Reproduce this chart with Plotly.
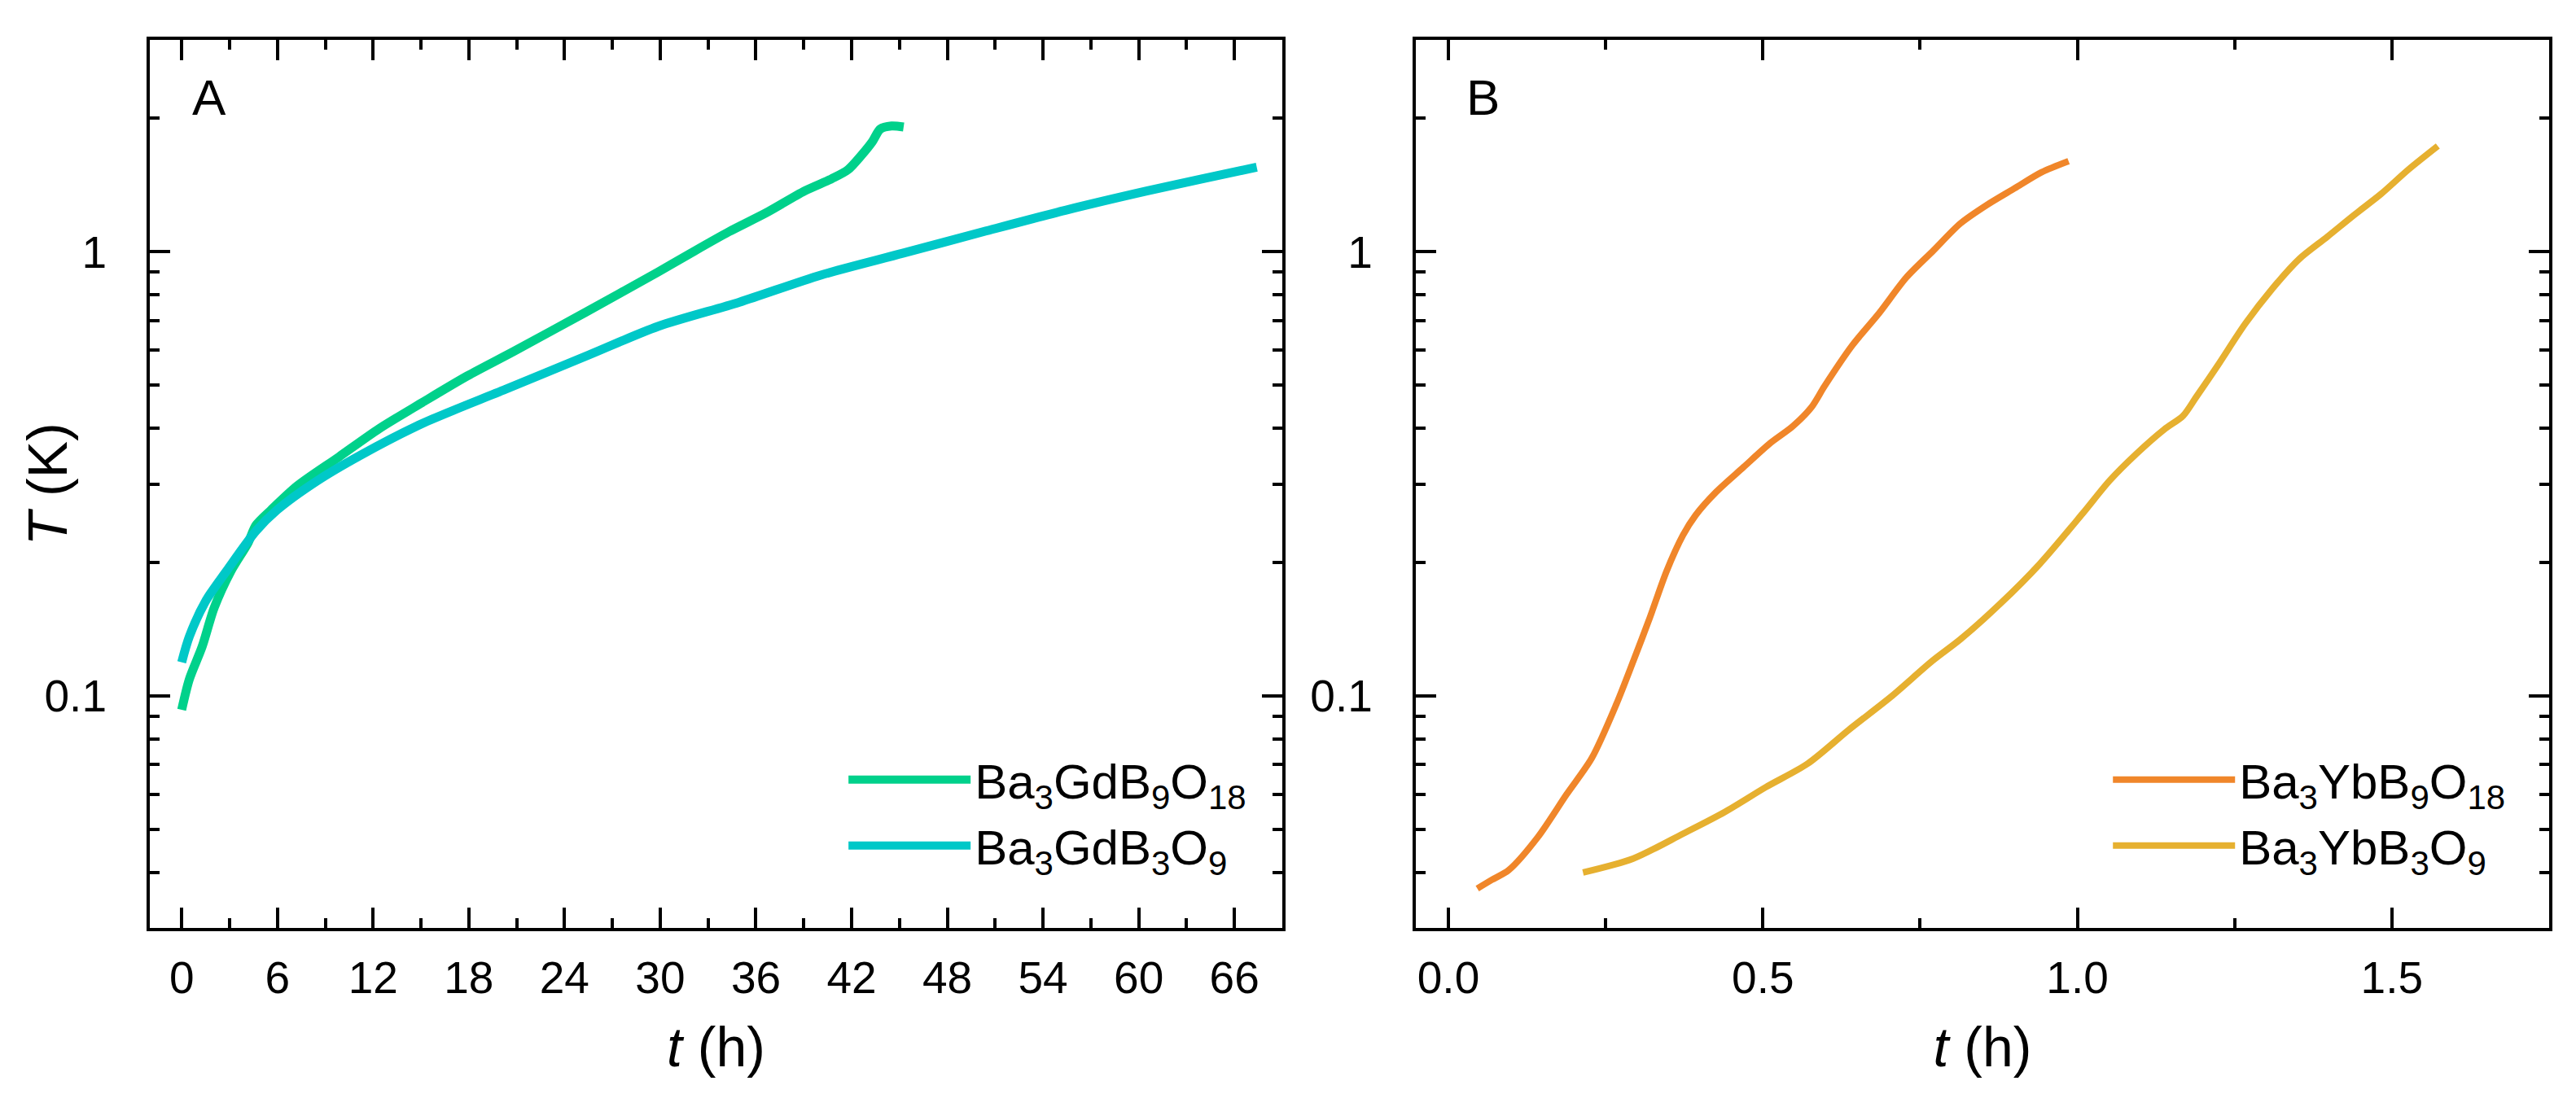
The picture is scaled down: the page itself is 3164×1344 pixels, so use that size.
import numpy as np
import plotly.graph_objects as go

# Panel A: Ba3GdB9O18 and Ba3GdB3O9, time in hours, temperature in K
gd918_t = [0, 0.48, 1.28, 2.04, 3.09, 4.16, 4.65, 5.6, 7.25, 9.85, 12.4, 15.06, 17.9, 20.8, 25.3,
           29.86, 31.9, 34.3, 36.67, 39.05, 40.75, 41.77, 42.62, 43.3, 43.8, 44.5, 45.26]
gd918_T = [0.093, 0.109, 0.129, 0.158, 0.191, 0.221, 0.242, 0.262, 0.297, 0.345, 0.40, 0.457,
           0.525, 0.596, 0.73, 0.90, 0.992, 1.109, 1.225, 1.37, 1.46, 1.53, 1.65, 1.77, 1.89,
           1.92, 1.91]

gd39_t = [0, 0.48, 1.53, 2.81, 4.65, 5.97, 8.5, 11.2, 15.06, 20.3, 25.5, 29.86, 34.97, 40.07,
          45.2, 50.28, 55.4, 60.5, 64, 67.4]
gd39_T = [0.119, 0.136, 0.164, 0.191, 0.235, 0.262, 0.305, 0.348, 0.41, 0.49, 0.585, 0.679,
          0.770, 0.886, 0.992, 1.11, 1.24, 1.37, 1.46, 1.55]

# Panel B: Ba3YbB9O18 and Ba3YbB3O9
yb918_t = [0.046, 0.069, 0.096, 0.142, 0.188, 0.228, 0.267, 0.294, 0.320, 0.347, 0.373, 0.393,
           0.426, 0.469, 0.512, 0.547, 0.577, 0.598, 0.642, 0.685, 0.728, 0.771, 0.814, 0.857,
           0.900, 0.943, 0.986]
yb918_T = [0.0368, 0.0385, 0.0405, 0.048, 0.060, 0.0724, 0.0957, 0.1197, 0.1496, 0.191, 0.23,
           0.255, 0.288, 0.327, 0.371, 0.404, 0.446, 0.498, 0.615, 0.728, 0.875, 1.006, 1.158,
           1.277, 1.389, 1.51, 1.60]

yb39_t = [0.214, 0.294, 0.373, 0.439, 0.505, 0.571, 0.637, 0.703, 0.769, 0.814, 0.877, 0.940,
          1.008, 1.051, 1.094, 1.138, 1.168, 1.189, 1.224, 1.267, 1.310, 1.353, 1.397, 1.440,
          1.483, 1.526, 1.573]
yb39_T = [0.040, 0.043, 0.0489, 0.0547, 0.0623, 0.0703, 0.0839, 0.0993, 0.1197, 0.134, 0.161,
          0.198, 0.257, 0.305, 0.351, 0.398, 0.427, 0.471, 0.557, 0.689, 0.826, 0.964, 1.08,
          1.21, 1.35, 1.53, 1.73]

names = ["Ba<sub>3</sub>GdB<sub>9</sub>O<sub>18</sub>", "Ba<sub>3</sub>GdB<sub>3</sub>O<sub>9</sub>",
         "Ba<sub>3</sub>YbB<sub>9</sub>O<sub>18</sub>", "Ba<sub>3</sub>YbB<sub>3</sub>O<sub>9</sub>"]
colors = ["#00D18B", "#00C8C8", "#F0862A", "#E6B030"]

y_major = [0.1, 1]
y_minor = [0.04, 0.05, 0.06, 0.07, 0.08, 0.09, 0.2, 0.3, 0.4, 0.5, 0.6, 0.7, 0.8, 0.9, 2]

FONT = "Arial, 'Liberation Sans', sans-serif"

fig = go.Figure()
fig.add_trace(go.Scatter(x=gd918_t, y=gd918_T, mode="lines", name=names[0],
                         line=dict(color=colors[0], width=11, shape="spline", smoothing=0.8),
                         legend="legend"))
fig.add_trace(go.Scatter(x=gd39_t, y=gd39_T, mode="lines", name=names[1],
                         line=dict(color=colors[1], width=11, shape="spline", smoothing=0.8),
                         legend="legend"))
fig.add_trace(go.Scatter(x=yb918_t, y=yb918_T, mode="lines", name=names[2],
                         line=dict(color=colors[2], width=8, shape="spline", smoothing=0.8),
                         xaxis="x2", yaxis="y2", legend="legend2"))
fig.add_trace(go.Scatter(x=yb39_t, y=yb39_T, mode="lines", name=names[3],
                         line=dict(color=colors[3], width=8, shape="spline", smoothing=0.8),
                         xaxis="x2", yaxis="y2", legend="legend2"))

axis_common = dict(showline=True, linewidth=4, linecolor="black", mirror="ticks",
                   ticks="inside", ticklen=25, tickwidth=4, tickcolor="black",
                   showgrid=False, zeroline=False,
                   tickfont=dict(family=FONT, size=55, color="black"))
minor_common = dict(ticks="inside", ticklen=12, tickwidth=4, tickcolor="black", showgrid=False)

yaxis_common = dict(axis_common, type="log", range=[np.log10(0.03), np.log10(3)],
                    tickmode="array", tickvals=y_major, ticktext=["0.1", "1"],
                    minor=dict(minor_common, tickmode="array", tickvals=y_minor),
                    ticklabelstandoff=38)

title_font = dict(family=FONT, size=68, color="black")
legend_font = dict(family=FONT, size=60, color="black")
letter_font = dict(family=FONT, size=62, color="black")

fig.update_layout(
    width=3164, height=1344,
    margin=dict(l=176, r=41, t=41, b=212),
    paper_bgcolor="white", plot_bgcolor="white",
    font=dict(family=FONT, color="black"),
    xaxis=dict(axis_common, domain=[0, 0.472], range=[-2, 69], tick0=0, dtick=6,
               minor=dict(minor_common, dtick=3), anchor="y", ticklabelstandoff=10,
               title=dict(text="<i>t</i> (h)", font=title_font, standoff=32)),
    yaxis=dict(yaxis_common, domain=[0, 1], anchor="x"),
    xaxis2=dict(axis_common, domain=[0.5276, 1], range=[-0.052, 1.75], tick0=0, dtick=0.5,
                tickformat=".1f", minor=dict(minor_common, dtick=0.25), anchor="y2",
                ticklabelstandoff=10,
                title=dict(text="<i>t</i> (h)", font=title_font, standoff=32)),
    yaxis2=dict(yaxis_common, domain=[0, 1], anchor="x2"),
    legend=dict(x=0.2895, y=0.13, xanchor="left", yanchor="middle", font=legend_font,
                bgcolor="rgba(0,0,0,0)", itemwidth=150, tracegroupgap=0),
    legend2=dict(x=0.8165, y=0.13, xanchor="left", yanchor="middle", font=legend_font,
                 bgcolor="rgba(0,0,0,0)", itemwidth=150, tracegroupgap=0),
    annotations=[
        dict(text="<i>T</i> (K)", xref="paper", yref="paper", x=-0.0428, y=0.5,
             xanchor="center", yanchor="middle", textangle=-90, showarrow=False,
             font=title_font),
        dict(text="A", xref="x domain", yref="y domain", x=0.036, y=0.935,
             xanchor="left", yanchor="middle", showarrow=False, font=letter_font),
        dict(text="B", xref="x2 domain", yref="y2 domain", x=0.043, y=0.935,
             xanchor="left", yanchor="middle", showarrow=False, font=letter_font),
    ],
)

fig.write_html("out.html")
